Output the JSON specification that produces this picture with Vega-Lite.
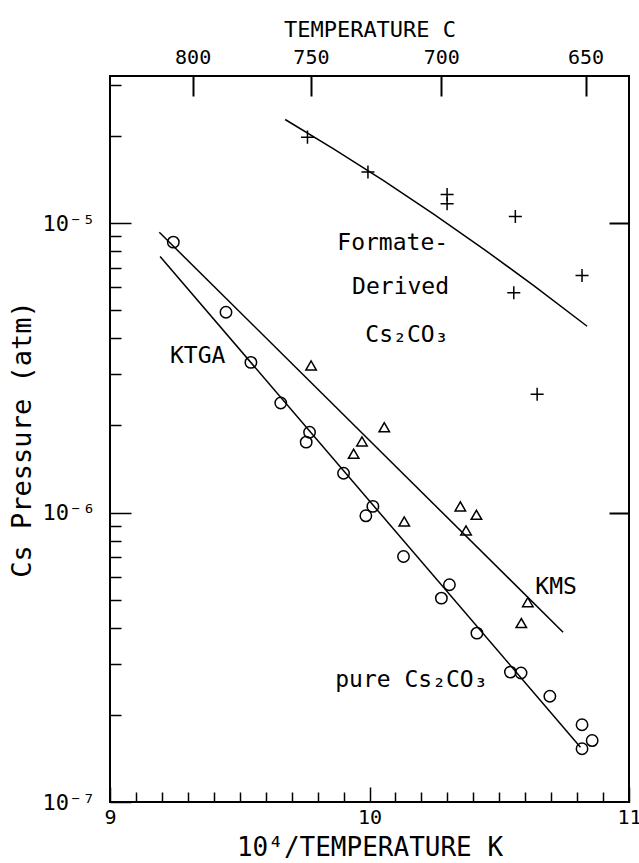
{
  "$schema": "https://vega.github.io/schema/vega-lite/v6.json",
  "autosize": {"type": "none"},
  "padding": {"left": 110, "top": 76, "right": 10, "bottom": 61},
  "width": 519,
  "height": 726,
  "background": "white",
  "config": {
    "view": {"stroke": "black", "strokeWidth": 2},
    "axis": {
      "labelFont": "DejaVu Sans Mono",
      "titleFont": "DejaVu Sans Mono",
      "labelColor": "black",
      "titleColor": "black",
      "titleFontWeight": "normal",
      "tickColor": "black",
      "tickWidth": 1.5,
      "domain": false,
      "grid": false,
      "labelOverlap": false,
      "labelFlush": false
    },
    "text": {"font": "DejaVu Sans Mono"}
  },
  "datasets": {
    "points": [
      {"x": 9.761, "p": 1.98e-5, "series": "Formate"},
      {"x": 9.994, "p": 1.50e-5, "series": "Formate"},
      {"x": 10.299, "p": 1.254e-5, "series": "Formate"},
      {"x": 10.299, "p": 1.165e-5, "series": "Formate"},
      {"x": 10.562, "p": 1.053e-5, "series": "Formate"},
      {"x": 10.819, "p": 6.59e-6, "series": "Formate"},
      {"x": 10.556, "p": 5.74e-6, "series": "Formate"},
      {"x": 10.646, "p": 2.56e-6, "series": "Formate"},
      {"x": 9.244, "p": 8.59e-6, "series": "KTGA"},
      {"x": 9.447, "p": 4.92e-6, "series": "KTGA"},
      {"x": 9.543, "p": 3.30e-6, "series": "KTGA"},
      {"x": 9.658, "p": 2.39e-6, "series": "KTGA"},
      {"x": 9.769, "p": 1.894e-6, "series": "KTGA"},
      {"x": 9.756, "p": 1.75e-6, "series": "KTGA"},
      {"x": 9.900, "p": 1.367e-6, "series": "KTGA"},
      {"x": 10.013, "p": 1.05e-6, "series": "KTGA"},
      {"x": 9.986, "p": 9.74e-7, "series": "KTGA"},
      {"x": 10.131, "p": 7.05e-7, "series": "KTGA"},
      {"x": 10.308, "p": 5.63e-7, "series": "KTGA"},
      {"x": 10.277, "p": 5.06e-7, "series": "KTGA"},
      {"x": 10.414, "p": 3.83e-7, "series": "KTGA"},
      {"x": 10.543, "p": 2.81e-7, "series": "KTGA"},
      {"x": 10.584, "p": 2.79e-7, "series": "KTGA"},
      {"x": 10.695, "p": 2.32e-7, "series": "KTGA"},
      {"x": 10.819, "p": 1.848e-7, "series": "KTGA"},
      {"x": 10.858, "p": 1.63e-7, "series": "KTGA"},
      {"x": 10.819, "p": 1.527e-7, "series": "KTGA"},
      {"x": 9.775, "p": 3.22e-6, "series": "KMS"},
      {"x": 10.057, "p": 1.97e-6, "series": "KMS"},
      {"x": 9.971, "p": 1.76e-6, "series": "KMS"},
      {"x": 9.939, "p": 1.596e-6, "series": "KMS"},
      {"x": 10.134, "p": 9.31e-7, "series": "KMS"},
      {"x": 10.350, "p": 1.05e-6, "series": "KMS"},
      {"x": 10.412, "p": 9.82e-7, "series": "KMS"},
      {"x": 10.372, "p": 8.67e-7, "series": "KMS"},
      {"x": 10.610, "p": 4.9e-7, "series": "KMS"},
      {"x": 10.585, "p": 4.15e-7, "series": "KMS"}
    ],
    "fits": [
      {"x": 9.675, "p": 2.278e-5, "fit": "formate"},
      {"x": 9.8615, "p": 1.804e-5, "fit": "formate"},
      {"x": 10.0543, "p": 1.401e-5, "fit": "formate"},
      {"x": 10.2472, "p": 1.073e-5, "fit": "formate"},
      {"x": 10.44, "p": 8.13e-6, "fit": "formate"},
      {"x": 10.633, "p": 6.08e-6, "fit": "formate"},
      {"x": 10.8386, "p": 4.40e-6, "fit": "formate"},
      {"x": 9.193, "p": 7.66e-6, "fit": "ktga"},
      {"x": 10.813, "p": 1.546e-7, "fit": "ktga"},
      {"x": 9.190, "p": 9.29e-6, "fit": "kms"},
      {"x": 10.746, "p": 3.86e-7, "fit": "kms"}
    ],
    "labels": [
      {"x": 9.876, "p": 8.56e-6, "text": "Formate-"},
      {"x": 9.933, "p": 5.99e-6, "text": "Derived"},
      {"x": 9.984, "p": 4.09e-6, "text": "Cs₂CO₃"},
      {"x": 9.231, "p": 3.48e-6, "text": "KTGA"},
      {"x": 10.639, "p": 5.52e-7, "text": "KMS"},
      {"x": 9.868, "p": 2.63e-7, "text": "pure Cs₂CO₃"}
    ]
  },
  "resolve": {"axis": {"x": "independent", "y": "independent"}},
  "layer": [
    {
      "data": {"name": "fits"},
      "mark": {"type": "line", "color": "black", "strokeWidth": 1.5},
      "encoding": {
        "x": {"field": "x", "type": "quantitative", "scale": {"domain": [9, 11], "nice": false, "zero": false}, "axis": null},
        "y": {"field": "p", "type": "quantitative", "scale": {"type": "log", "domain": [1e-7, 3.22e-5], "nice": false}, "axis": null},
        "detail": {"field": "fit"}
      }
    },
    {
      "data": {"name": "points"},
      "transform": [{"filter": "datum.series === 'KTGA'"}],
      "mark": {"type": "point", "shape": "circle", "size": 130, "filled": false, "stroke": "black", "strokeWidth": 1.5, "opacity": 1},
      "encoding": {
        "x": {
          "field": "x", "type": "quantitative",
          "scale": {"domain": [9, 11], "nice": false, "zero": false},
          "axis": {
            "orient": "bottom",
            "values": [9, 9.1, 9.2, 9.3, 9.4, 9.5, 9.6, 9.7, 9.8, 9.9, 10, 10.1, 10.2, 10.3, 10.4, 10.5, 10.6, 10.7, 10.8, 10.9, 11],
            "labelExpr": "abs(datum.value - round(datum.value)) < 0.001 ? format(datum.value, 'd') : ''",
            "tickSize": {"condition": {"test": "abs(datum.value - round(datum.value)) < 0.001", "value": -15}, "value": -10},
            "labelFontSize": 20,
            "labelPadding": 20,
            "title": "10⁴/TEMPERATURE K",
            "titleFontSize": 26,
            "titlePadding": 2
          }
        },
        "y": {
          "field": "p", "type": "quantitative",
          "scale": {"type": "log", "domain": [1e-7, 3.22e-5], "nice": false},
          "axis": {
            "orient": "left",
            "values": [1e-7, 2e-7, 3e-7, 4e-7, 5e-7, 6e-7, 7e-7, 8e-7, 9e-7, 1e-6, 2e-6, 3e-6, 4e-6, 5e-6, 6e-6, 7e-6, 8e-6, 9e-6, 1e-5, 2e-5, 3e-5],
            "labelExpr": "abs(datum.value - 1e-5) < 1e-9 ? '10⁻⁵' : abs(datum.value - 1e-6) < 1e-10 ? '10⁻⁶' : abs(datum.value - 1e-7) < 1e-11 ? '10⁻⁷' : ''",
            "tickSize": {"condition": {"test": "abs(log(datum.value)/LN10 - round(log(datum.value)/LN10)) < 0.001", "value": -21}, "value": -11},
            "labelFontSize": 22,
            "labelPadding": 36,
            "title": "Cs Pressure (atm)",
            "titleFontSize": 27,
            "titlePadding": 6
          }
        }
      }
    },
    {
      "data": {"name": "points"},
      "transform": [{"filter": "datum.series === 'KMS'"}],
      "mark": {"type": "point", "shape": "triangle-up", "size": 110, "filled": false, "stroke": "black", "strokeWidth": 1.5, "opacity": 1},
      "encoding": {
        "x": {
          "field": "x", "type": "quantitative",
          "scale": {"domain": [9, 11], "nice": false, "zero": false},
          "axis": {
            "orient": "top",
            "values": [9.3184, 9.7742, 10.2764, 10.8324],
            "labelExpr": "format(10000/datum.value - 273.15, '.0f')",
            "tickSize": {"condition": {"test": "datum.value > 0", "value": -20}, "value": -20},
            "tickWidth": 2,
            "labelFontSize": 20,
            "labelPadding": 29,
            "title": "TEMPERATURE C",
            "titleFontSize": 22,
            "titlePadding": 6
          }
        },
        "y": {
          "field": "p", "type": "quantitative",
          "scale": {"type": "log", "domain": [1e-7, 3.22e-5], "nice": false},
          "axis": {
            "orient": "right",
            "values": [1e-6, 1e-5],
            "labels": false,
            "tickSize": -20,
            "tickWidth": 2,
            "title": null
          }
        }
      }
    },
    {
      "data": {"name": "points"},
      "transform": [{"filter": "datum.series === 'Formate'"}],
      "mark": {"type": "point", "shape": "M-1,0L1,0M0,-1L0,1", "size": 170, "filled": false, "stroke": "black", "strokeWidth": 1.5, "opacity": 1},
      "encoding": {
        "x": {"field": "x", "type": "quantitative", "scale": {"domain": [9, 11], "nice": false, "zero": false}, "axis": null},
        "y": {"field": "p", "type": "quantitative", "scale": {"type": "log", "domain": [1e-7, 3.22e-5], "nice": false}, "axis": null}
      }
    },
    {
      "data": {"name": "labels"},
      "mark": {"type": "text", "align": "left", "baseline": "middle", "fontSize": 23, "color": "black"},
      "encoding": {
        "x": {"field": "x", "type": "quantitative", "scale": {"domain": [9, 11], "nice": false, "zero": false}, "axis": null},
        "y": {"field": "p", "type": "quantitative", "scale": {"type": "log", "domain": [1e-7, 3.22e-5], "nice": false}, "axis": null},
        "text": {"field": "text"}
      }
    }
  ]
}
